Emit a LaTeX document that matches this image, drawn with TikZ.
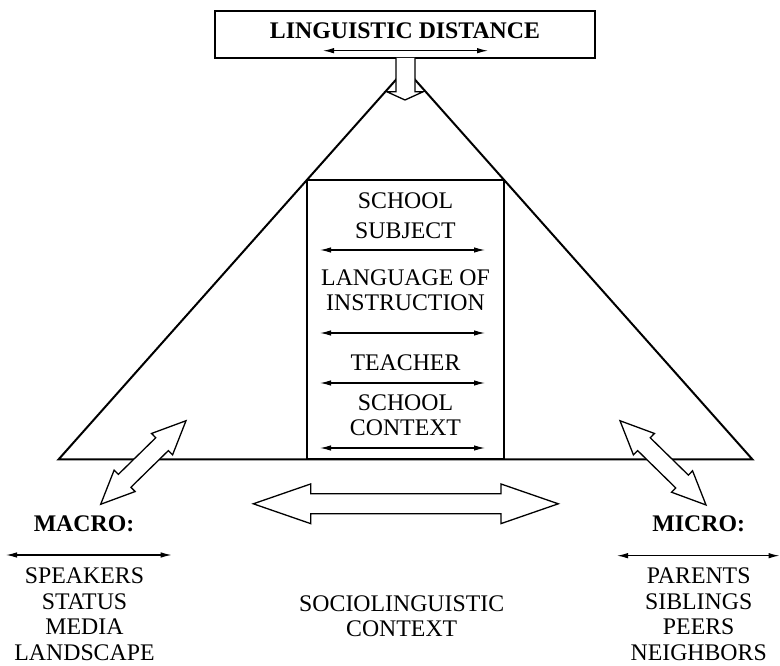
\documentclass[tikz,border=0pt]{standalone}
\usepackage{fontspec}
\setmainfont{Liberation Serif}
\usetikzlibrary{arrows.meta}
\tikzset{
  thick line/.style={line width=2pt, line join=miter},
  hollow/.style={draw=black, fill=white, line width=1.3pt, line join=miter},
  thin arrow/.style={line width=1.2pt, {Latex[length=11pt,width=5.5pt]}-{Latex[length=11pt,width=5.5pt]}},
  lbl/.style={anchor=base, inner sep=0pt, font=\fontsize{23.8}{25}\selectfont},
  blbl/.style={lbl, font=\fontsize{23.8}{25}\selectfont\bfseries},
}
% double hollow arrow: #1 half length, #2 head length, #3 head half width, #4 shaft half width
\newcommand{\hollowdouble}[4]{%
  \draw[hollow] (-#1,0) -- (-#1+#2,#3) -- (-#1+#2,#4) -- (#1-#2,#4) -- (#1-#2,#3) -- (#1,0)
     -- (#1-#2,-#3) -- (#1-#2,-#4) -- (-#1+#2,-#4) -- (-#1+#2,-#3) -- cycle;}
\begin{document}
\begin{tikzpicture}[x=1pt,y=1pt]
\useasboundingbox (0,0) rectangle (780,665);

% triangle
\coordinate (tl) at (58.5,205.5);
\coordinate (tr) at (752.5,205.5);
\coordinate (ta) at (405.5,596);
\draw[thick line] (tl) -- (ta) -- (tr) -- cycle;

% middle box
\coordinate (bl) at (307,205.5);
\coordinate (bt) at (504,485);
\draw[thick line] (bl) rectangle (bt);

% top box
\coordinate (ll) at (215,607);
\coordinate (ur) at (595,654.3);
\draw[thick line, fill=white] (ll) rectangle (ur);
\node[blbl] (ld) at (405,626) {LINGUISTIC DISTANCE};
\coordinate (lda) at (323,614.3);
\coordinate (ldb) at (488,614.3);
\draw[thin arrow] (lda) -- (ldb);

% down arrow
\draw[hollow] (396,607) -- (396,573.3) -- (386.7,573.3) -- (405,565) -- (423.3,573.3) -- (415,573.3) -- (415,607);

% middle box texts
\node[lbl] (s1) at (405.5,456) {SCHOOL};
\node[lbl] (s2) at (405.5,426) {SUBJECT};
\coordinate (a1l) at (320,415); \coordinate (a1r) at (485,415);
\draw[thin arrow] (a1l) -- (a1r);
\node[lbl] (l1) at (405.5,379) {LANGUAGE OF};
\node[lbl] (l2) at (405.5,354.3) {INSTRUCTION};
\coordinate (a2l) at (320,332); \coordinate (a2r) at (485,332);
\draw[thin arrow] (a2l) -- (a2r);
\node[lbl] (t1) at (405.5,294.3) {TEACHER};
\coordinate (a3l) at (320,282); \coordinate (a3r) at (485,282);
\draw[thin arrow] (a3l) -- (a3r);
\node[lbl] (c1) at (405.5,254.3) {SCHOOL};
\node[lbl] (c2) at (405.5,229.3) {CONTEXT};
\coordinate (a4l) at (320,217); \coordinate (a4r) at (485,217);
\draw[thin arrow] (a4l) -- (a4r);

% hollow double arrows
\begin{scope}[shift={(143.35,202.5)}, rotate=44.4]
  \hollowdouble{59.7}{33.5}{15}{9}
\end{scope}
\begin{scope}[shift={(663,202.15)}, rotate=-44.4]
  \hollowdouble{60.2}{33.5}{15}{9}
\end{scope}
\begin{scope}[shift={(405.8,161.2)}]
  \hollowdouble{152.5}{57.4}{19.85}{10}
\end{scope}

% macro
\node[blbl] (macro) at (84,133.3) {MACRO:};
\coordinate (mal) at (6,110); \coordinate (mar) at (171.7,110);
\draw[thin arrow] (mal) -- (mar);
\node[lbl] (m1) at (84.5,82) {SPEAKERS};
\node[lbl] (m2) at (84.5,56) {STATUS};
\node[lbl] (m3) at (84.5,30.5) {MEDIA};
\node[lbl] (m4) at (84.5,5) {LANDSCAPE};

% micro
\node[blbl] (micro) at (698.7,133.3) {MICRO:};
\coordinate (mil) at (617,109.3); \coordinate (mir) at (779.5,109.3);
\draw[thin arrow] (mil) -- (mir);
\node[lbl] (p1) at (698.7,82) {PARENTS};
\node[lbl] (p2) at (698.7,56) {SIBLINGS};
\node[lbl] (p3) at (698.7,30.5) {PEERS};
\node[lbl] (p4) at (698.7,5) {NEIGHBORS};

% sociolinguistic
\node[lbl] (soc1) at (401.7,54) {SOCIOLINGUISTIC};
\node[lbl] (soc2) at (401.7,28.3) {CONTEXT};
\end{tikzpicture}
\end{document}
